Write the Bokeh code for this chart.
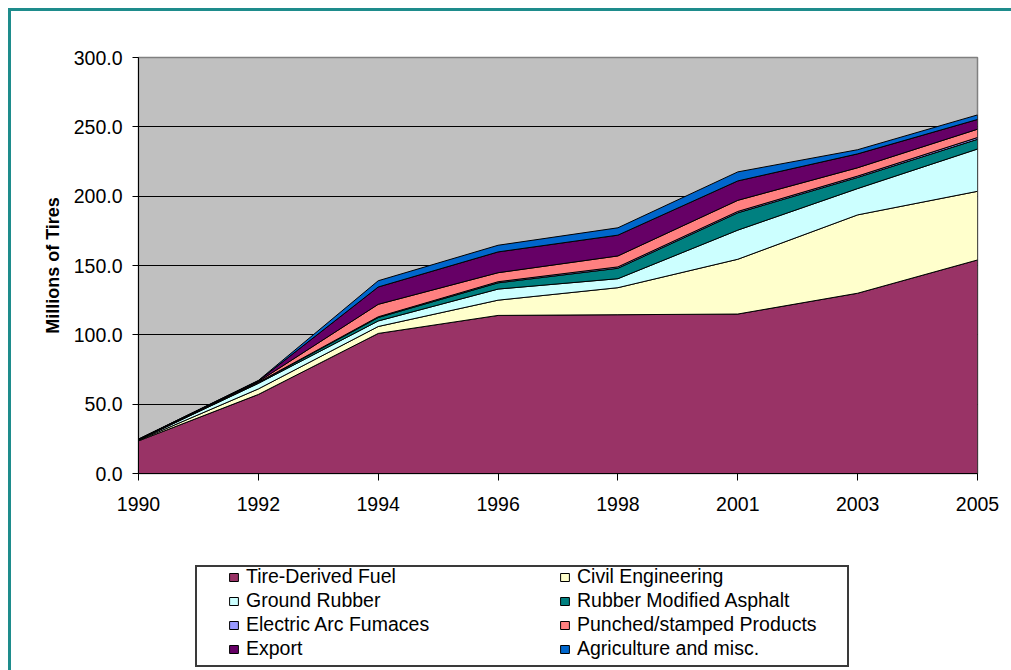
from bokeh.plotting import figure
from bokeh.layouts import column
from bokeh.models import (Range1d, FixedTicker, PrintfTickFormatter, Legend,
                          LegendItem)
from bokeh.embed import file_html
from bokeh.resources import INLINE

years = ["1990", "1992", "1994", "1996", "1998", "2001", "2003", "2005"]
y_ticks = [0, 50, 100, 150, 200, 250, 300]

tire_derived_fuel = [23.5, 57, 101, 114, 114.5, 115, 130, 154]
civil_engineering = [0.3, 4, 5, 11, 19.5, 39.5, 56.5, 49.5]
ground_rubber = [0.3, 4, 4, 8, 6.5, 21, 19, 30.5]
rubber_modified_asphalt = [0.2, 0.5, 2.5, 4.5, 7.5, 12.5, 8, 7]
electric_arc_furnaces = [0.1, 0.3, 0.5, 0.8, 1, 1, 1, 1.3]
punched_stamped = [0.1, 0.5, 9, 6.5, 7.9, 8, 6, 6]
export = [0.2, 0.5, 12.5, 15, 15, 14, 10, 7]
agriculture_misc = [0.1, 0.3, 4.5, 4.8, 5.3, 6.5, 3, 3.3]

series_names = ["Tire-Derived Fuel", "Civil Engineering", "Ground Rubber",
                "Rubber Modified Asphalt", "Electric Arc Fumaces",
                "Punched/stamped Products", "Export", "Agriculture and misc."]
series_values = [tire_derived_fuel, civil_engineering, ground_rubber,
                 rubber_modified_asphalt, electric_arc_furnaces,
                 punched_stamped, export, agriculture_misc]
colors = ["#993366", "#FFFFCC", "#CCFFFF", "#008080", "#9999FF",
          "#FF8080", "#660066", "#0066CC"]

FONT = "Liberation Sans"

# ---------------- main chart ----------------
p = figure(frame_width=839, frame_height=416,
           x_range=Range1d(0, len(years) - 1), y_range=Range1d(0, 300),
           output_backend="svg", toolbar_location=None,
           min_border_left=138, min_border_right=34,
           min_border_top=57, min_border_bottom=67)
p.background_fill_color = "#C0C0C0"
p.border_fill_alpha = 0
p.outline_line_color = "#808080"
p.outline_line_width = 1.5

xs = list(range(len(years)))
lower = [0.0] * len(years)
for vals, col in zip(series_values, colors):
    upper = [l + v for l, v in zip(lower, vals)]
    p.patch(xs + xs[::-1], upper + lower[::-1],
            fill_color=col, line_color="black", line_width=1)
    lower = upper

p.xaxis.ticker = FixedTicker(ticks=xs)
p.xaxis.major_label_overrides = {i: y for i, y in enumerate(years)}
p.yaxis.ticker = FixedTicker(ticks=y_ticks)
p.yaxis.formatter = PrintfTickFormatter(format="%.1f")
for ax in (p.xaxis[0], p.yaxis[0]):
    ax.axis_line_color = "black"
    ax.axis_line_width = 1
    ax.major_tick_line_color = "black"
    ax.major_tick_in = 0
    ax.minor_tick_line_color = None
    ax.major_label_text_font = FONT
    ax.major_label_text_font_size = "19.5px"
    ax.major_label_text_color = "black"
p.xaxis.major_tick_out = 7
p.xaxis.major_label_standoff = 16
p.yaxis.major_tick_out = 6
p.yaxis.major_label_standoff = 10
p.yaxis.axis_label = "Millions of Tires"
p.yaxis.axis_label_text_font = FONT
p.yaxis.axis_label_text_font_size = "18px"
p.yaxis.axis_label_text_font_style = "bold"
p.yaxis.axis_label_text_color = "black"
p.yaxis.axis_label_standoff = 8

p.xgrid.visible = False
p.ygrid.grid_line_color = "black"
p.ygrid.grid_line_width = 1

# ---------------- legend strip ----------------
pl = figure(width=1011, height=130, x_range=Range1d(0, 1),
            y_range=Range1d(0, 1), output_backend="svg",
            toolbar_location=None, x_axis_location=None,
            y_axis_location=None, min_border=0)
pl.background_fill_alpha = 0
pl.border_fill_alpha = 0
pl.outline_line_color = None
pl.grid.visible = False

nan = float("nan")
items = []
for name, col in zip(series_names, colors):
    # swatch-only renderer (no visible geometry), used by the legend
    r = pl.patch([nan], [nan], fill_color=col, line_color="black",
                 line_width=1)
    items.append(LegendItem(label=name, renderers=[r]))
# legend fills column by column: reorder so rows read left to right
items = items[0::2] + items[1::2]
legend = Legend(items=items, location=(90, 10), orientation="vertical",
                ncols=2, padding=0, margin=0, spacing=1,
                glyph_width=11, glyph_height=10, label_standoff=7,
                label_width=312, label_height=20,
                label_text_font=FONT, label_text_font_size="19.5px",
                label_text_color="black",
                border_line_alpha=0, background_fill_alpha=0)
pl.add_layout(legend)

# page decoration: teal frame lines (top/left) and the legend's box
teal = "linear-gradient(#1E8C8C,#1E8C8C)"
dark = "linear-gradient(#3a3a3a,#3a3a3a)"
page = column(p, pl, spacing=0, styles={
    "background-color": "white",
    "background-image": ", ".join([teal, teal, dark, dark, dark, dark]),
    "background-position": "8px 8px, 8px 8px, 195px 565px, 195px 665px, "
                           "195px 565px, 847px 565px",
    "background-size": "3px 100%, 100% 3px, 654px 2px, 654px 2px, "
                       "2px 102px, 2px 102px",
    "background-repeat": "no-repeat",
})

open("out.html", "w").write(file_html(page, INLINE))
